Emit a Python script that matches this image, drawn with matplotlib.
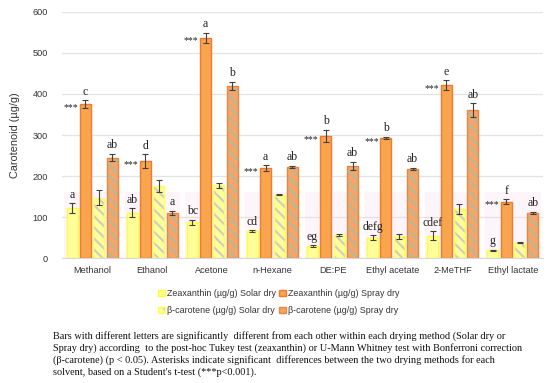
import matplotlib.pyplot as plt
import matplotlib.colors as mcolors
import numpy as np

solvents = ["Methanol", "Ethanol", "Acetone", "n-Hexane", "DE:PE",
            "Ethyl acetate", "2-MeTHF", "Ethyl lactate"]

zea_solar = [122, 111, 87, 66, 30, 50, 55, 19]
zea_solar_err = [12, 10, 7, 2, 2, 6, 10, 2]
zea_spray = [375, 236, 537, 220, 298, 293, 422, 138]
zea_spray_err = [10, 17, 12, 7, 15, 3, 12, 5]
bc_solar = [147, 175, 178, 155, 57, 53, 120, 38]
bc_solar_err = [18, 15, 6, 2, 2, 7, 12, 2]
bc_spray = [245, 111, 420, 222, 225, 217, 360, 110]
bc_spray_err = [9, 5, 10, 3, 10, 3, 17, 3]

zea_solar_lett = ["a", "ab", "bc", "cd", "eg", "defg", "cdef", "g"]
zea_spray_lett = ["c", "d", "a", "a", "b", "b", "e", "f"]
bc_spray_lett = ["ab", "a", "b", "ab", "ab", "ab", "ab", "ab"]

caption = [
    "Bars with different letters are significantly  different from each other within each drying method (Solar dry or",
    "Spray dry) according  to the post-hoc Tukey test (zeaxanthin) or U-Mann Whitney test with Bonferroni correction",
    "(\u03b2-carotene) (p < 0.05). Asterisks indicate significant  differences between the two drying methods for each",
    "solvent, based on a Student's t-test (***p<0.001).",
]

plt.rcParams['font.family'] = ['Liberation Sans', 'DejaVu Sans']
plt.rcParams['hatch.linewidth'] = 1.6

fig = plt.figure(figsize=(5.5, 3.83), dpi=100)
ax = fig.add_axes([0.1127, 0.326, 0.8745, 0.643])

x = np.arange(len(solvents))
w = 0.183
pitch = 0.222
offs = [-1.5 * pitch, -0.5 * pitch, 0.5 * pitch, 1.5 * pitch]

# faint pink background blocks seen behind each group
ax.bar(x, 160, width=0.92, color='#fef5fa', zorder=0)

ekw = dict(ecolor='#404040', elinewidth=0.8, capsize=2.2, capthick=0.8)

b1 = ax.bar(x + offs[0], zea_solar, w, yerr=zea_solar_err, color='#ffff99',
            edgecolor='#ffff33', linewidth=1.0, label="Zeaxanthin (\u00b5g/g) Solar dry",
            error_kw=ekw, zorder=2)
b2 = ax.bar(x + offs[1], zea_spray, w, yerr=zea_spray_err, color='#f8a54e',
            edgecolor='#f07a35', linewidth=1.0, label="Zeaxanthin (\u00b5g/g) Spray dry",
            error_kw=ekw, zorder=2)
b3 = ax.bar(x + offs[2], bc_solar, w, yerr=bc_solar_err, color='#ffff99',
            edgecolor='#ffff55', linewidth=1.0, hatch='\\\\\\',
            label="\u03b2-carotene (\u00b5g/g) Solar dry", error_kw=ekw, zorder=2)
b4 = ax.bar(x + offs[3], bc_spray, w, yerr=bc_spray_err, color='#f5a46a',
            edgecolor='#e8883f', linewidth=1.0, hatch='\\\\\\',
            label="\u03b2-carotene (\u00b5g/g) Spray dry", error_kw=ekw, zorder=2)
for p in b3.patches:
    p._hatch_color = mcolors.to_rgba('#cfcfbf')
for p in b4.patches:
    p._hatch_color = mcolors.to_rgba('#b9b894')

serif = ['Liberation Serif', 'DejaVu Serif']
for i in range(len(solvents)):
    ax.text(x[i] + offs[0], zea_solar[i] + zea_solar_err[i] + 6, zea_solar_lett[i],
            ha='center', va='bottom', fontsize=8.5, family=serif, color='#222222')
    ax.text(x[i] + offs[1], zea_spray[i] + zea_spray_err[i] + 6, zea_spray_lett[i],
            ha='center', va='bottom', fontsize=8.5, family=serif, color='#222222')
    ax.text(x[i] + offs[3], bc_spray[i] + bc_spray_err[i] + 6, bc_spray_lett[i],
            ha='center', va='bottom', fontsize=8.5, family=serif, color='#222222')
    ax.text(x[i] + offs[1] - w / 2 - 0.03, zea_spray[i] - 8, "***",
            ha='right', va='center', fontsize=7, family=serif, color='#222222')

ax.set_xlim(-0.5, len(solvents) - 0.5)
ax.set_ylim(0, 600)
ax.set_yticks(np.arange(0, 601, 100))
ax.set_xticks(x)
ax.set_xticklabels(solvents)
ax.tick_params(axis='both', length=0, labelsize=6.6, colors='#333333')
ax.tick_params(axis='y', pad=10)
ax.tick_params(axis='x', pad=6)
ax.grid(axis='y', color='#e3e3e3', linewidth=0.9, zorder=0)
ax.set_axisbelow(True)
for s in ['top', 'right', 'left']:
    ax.spines[s].set_visible(False)
ax.spines['bottom'].set_color('#d9d9d9')
ax.set_ylabel("Carotenoid (\u00b5g/g)", fontsize=7.8, color='#333333', labelpad=9)

fig.legend(handles=[b1, b3, b2, b4], loc='center', bbox_to_anchor=(0.507, 0.211),
           ncol=2, frameon=False, fontsize=6.4, handlelength=0.75, handleheight=0.75,
           handletextpad=0.3, columnspacing=0.3, labelspacing=0.9,
           labelcolor='#333333')

for k, line in enumerate(caption):
    fig.text(0.097, 1 - (336 + 12.2 * k) / 383, line, fontsize=7.4, family=serif,
             va='center', ha='left', color='#111111')

fig.savefig("out.png", dpi=100)
